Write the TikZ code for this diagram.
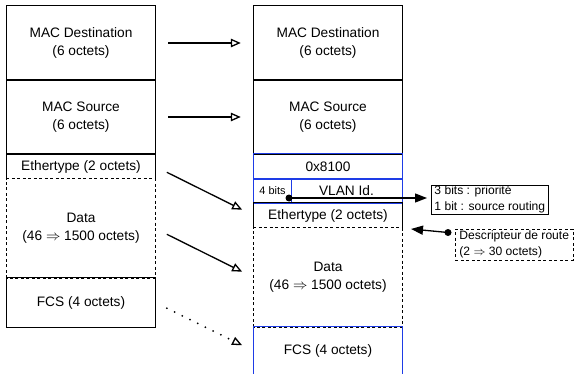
\documentclass[tikz,border=0pt]{standalone}
\usepackage{fontspec}
\setmainfont{Liberation Sans}
\usetikzlibrary{arrows.meta,calc}
\definecolor{fieldblue}{RGB}{30,60,230}
\begin{document}
\begin{tikzpicture}[x=1pt,y=-1pt,
  field/.style={minimum width=148pt, inner sep=0pt, align=center, font=\fontsize{13.7}{18}\selectfont},
  smalltxt/.style={inner sep=0pt, font=\fontsize{10.9}{13}\selectfont},
  blk/.style={draw=black, line width=0.9pt},
  blu/.style={draw=fieldblue, line width=0.9pt},
  dsh/.style={draw=black, line width=0.9pt, dash pattern=on 3pt off 2.5pt},
  arr/.style={line width=1.3pt, -{Triangle[open,length=10pt,width=8.5pt,line width=1.3pt]}, shorten <=13pt, shorten >=13pt},
  dotarr/.style={line width=2pt, line cap=round, dash pattern=on 0pt off 8.6pt, -{Triangle[open,length=10pt,width=8.5pt,line width=1.3pt]}, shorten <=13pt, shorten >=13pt},
  notebox/.style={align=left, inner xsep=3pt, inner ysep=0pt, font=\fontsize{12.1}{15.5}\selectfont},
  solidarr/.style={line width=1.3pt, -{Triangle[length=12pt,width=9pt]}}
]
\useasboundingbox (0,0) rectangle (575,374);

% ---- left column ----
\node[field, minimum height=74pt] (ld) at (81,43) {MAC Destination\\(6 octets)};
\node[field, minimum height=74pt] (ls) at (81,117) {MAC Source\\(6 octets)};
\node[field, minimum height=25pt] (le) at (81,166.5) {Ethertype (2 octets)};
\node[field, minimum height=99pt] (ldata) at (81,228.5) {Data\\(46 $\Rightarrow$ 1500 octets)};
\node[field, minimum height=49pt] (lf) at (81,302.5) {FCS (4 octets)};

\draw[blk] (ld.south west) rectangle (ld.north east);
\draw[blk] (ls.south west) rectangle (ls.north east);
\draw[blk] (le.south west) -- (le.north west) -- (le.north east) -- (le.south east);
\draw[dsh] (ldata.south west) rectangle (ldata.north east);
\draw[blk] (lf.south west) rectangle (lf.north east);

% ---- right column ----
\node[field, minimum height=74pt] (rd) at (328,43) {MAC Destination\\(6 octets)};
\node[field, minimum height=74pt] (rs) at (328,117) {MAC Source\\(6 octets)};
\node[field, minimum height=25pt] (rt) at (328,166.5) {0x8100};
\node[field, minimum height=24pt] (rv) at (328,191) {};
\node[inner sep=0pt, minimum width=37pt, minimum height=24pt] (r4) at (272.5,191) {};
\node[smalltxt] (r4t) at (272.5,191) {4 bits};
\node[field, minimum width=111pt, minimum height=24pt] (rvid) at (346.5,191) {VLAN Id.};
\node[field, minimum height=25pt] (re) at (328,215.5) {Ethertype (2 octets)};
\node[field, minimum height=99pt] (rdata) at (328,277.5) {Data\\(46 $\Rightarrow$ 1500 octets)};
\node[field, minimum height=48pt] (rf) at (328,351) {FCS (4 octets)};

\draw[blk] (rd.south west) rectangle (rd.north east);
\draw[blk] (rs.south west) rectangle (rs.north east);
\draw[blu] (rt.south west) rectangle (rt.north east);
\draw[blu] (rv.south west) rectangle (rv.north east);
\draw[blu] (r4.north east) -- (r4.south east);
\draw[blk] (re.south west) -- (re.north west) -- (re.north east) -- (re.south east);
\draw[dsh] (rdata.south west) rectangle (rdata.north east);
\draw[blu] (rf.south west) rectangle (rf.north east);

% ---- arrows between columns ----
\draw[arr] (ld.east) -- (rd.west);
\draw[arr] (ls.east) -- (rs.west);
\draw[arr] (le.east) -- (re.west);
\draw[arr] (ldata.east) -- (rdata.west);
\draw[dotarr] (lf.east) -- (rf.west);

% ---- side notes ----
\node[notebox, draw=black, line width=0.9pt, minimum height=29pt, anchor=west] (note) at (431,199.5)
  {3 bits : priorit\'e\\1 bit : source routing};
\node[notebox, dsh, inner xsep=4pt, minimum height=31pt, anchor=west] (desc) at (455,244.5)
  {Descripteur de route\\(2 $\Rightarrow$ 30 octets)};

\coordinate (vdot) at (289,198);
\fill (vdot) circle (3.5pt);
\draw[solidarr, shorten >=4pt] (vdot) -- (vdot -| note.west);

\coordinate (ddot) at (448,232.5);
\coordinate (dtip) at (411,229);
\fill (ddot) circle (3.5pt);
\draw[solidarr] (ddot) -- (dtip);
\end{tikzpicture}
\end{document}
